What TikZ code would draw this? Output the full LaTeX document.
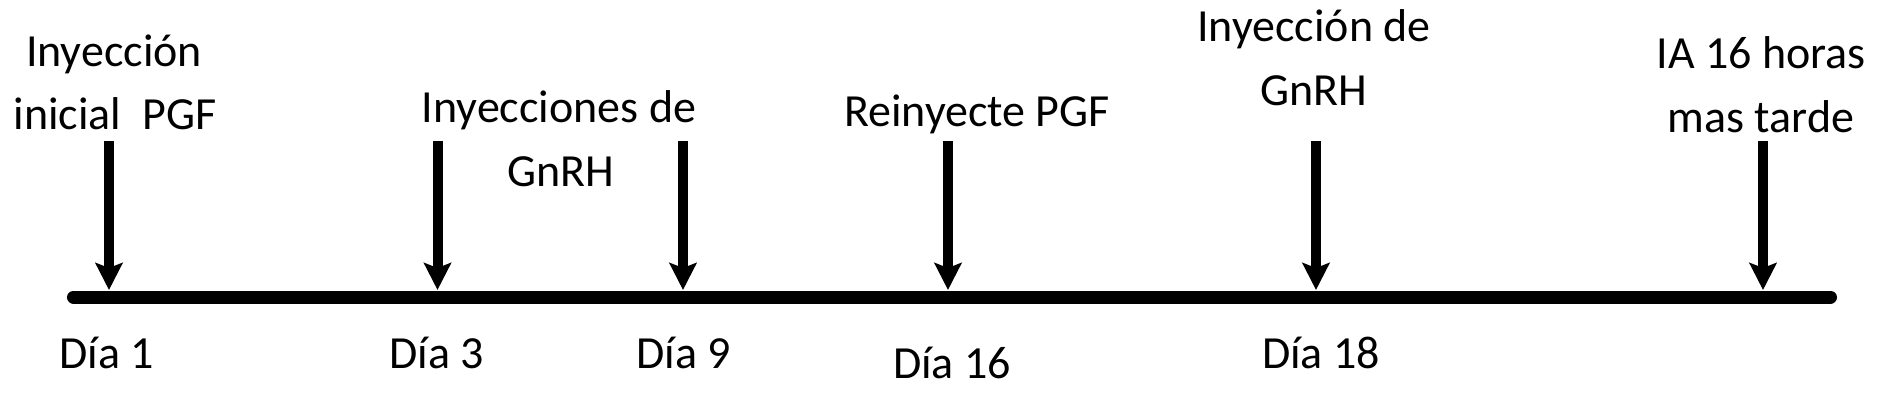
\documentclass[tikz,border=0pt]{standalone}
\usepackage{fontspec}
\setmainfont{Carlito}
\usetikzlibrary{arrows.meta}
\begin{document}
\begin{tikzpicture}[x=1pt,y=-1pt,
  lbl/.style={anchor=base,inner sep=0pt,font=\fontsize{46}{55}\selectfont},
  axis/.style={line width=13pt,line cap=round},
  evarrow/.style={line width=10pt,-{Stealth[length=27pt,width=27pt,inset=5pt]}}]
\useasboundingbox (0,0) rectangle (1888,406);
% timeline
\coordinate (L) at (73.5,297);
\coordinate (R) at (1830.5,297);
\draw[axis] (L) -- (R);
% arrow tops and tips
\foreach \n/\x in {1/109,2/437.5,3/683,4/948,5/1316,6/1763}{
  \coordinate (s\n) at (\x,141);
  \coordinate (t\n) at (\x,290);
  \draw[evarrow] (s\n) -- (t\n);
}
% top labels
\node[lbl] (l1a) at (114,67) {Inyección};
\node[lbl] (l1b) at (115,130) {inicial\ \ PGF};
\node[lbl] (l2a) at (559,123) {Inyecciones de};
\node[lbl] (l2b) at (561,187) {GnRH};
\node[lbl] (l3) at (977,127) {Reinyecte PGF};
\node[lbl] (l4a) at (1314,42) {Inyección de};
\node[lbl] (l4b) at (1314,106) {GnRH};
\node[lbl] (l5a) at (1761,69) {IA 16 horas};
\node[lbl] (l5b) at (1761,133) {mas tarde};
% bottom labels
\node[lbl] (d1) at (107,368) {Día 1};
\node[lbl] (d3) at (437,368) {Día 3};
\node[lbl] (d9) at (684,368) {Día 9};
\node[lbl] (d16) at (952,378) {Día 16};
\node[lbl] (d18) at (1321,368) {Día 18};
\end{tikzpicture}
\end{document}
